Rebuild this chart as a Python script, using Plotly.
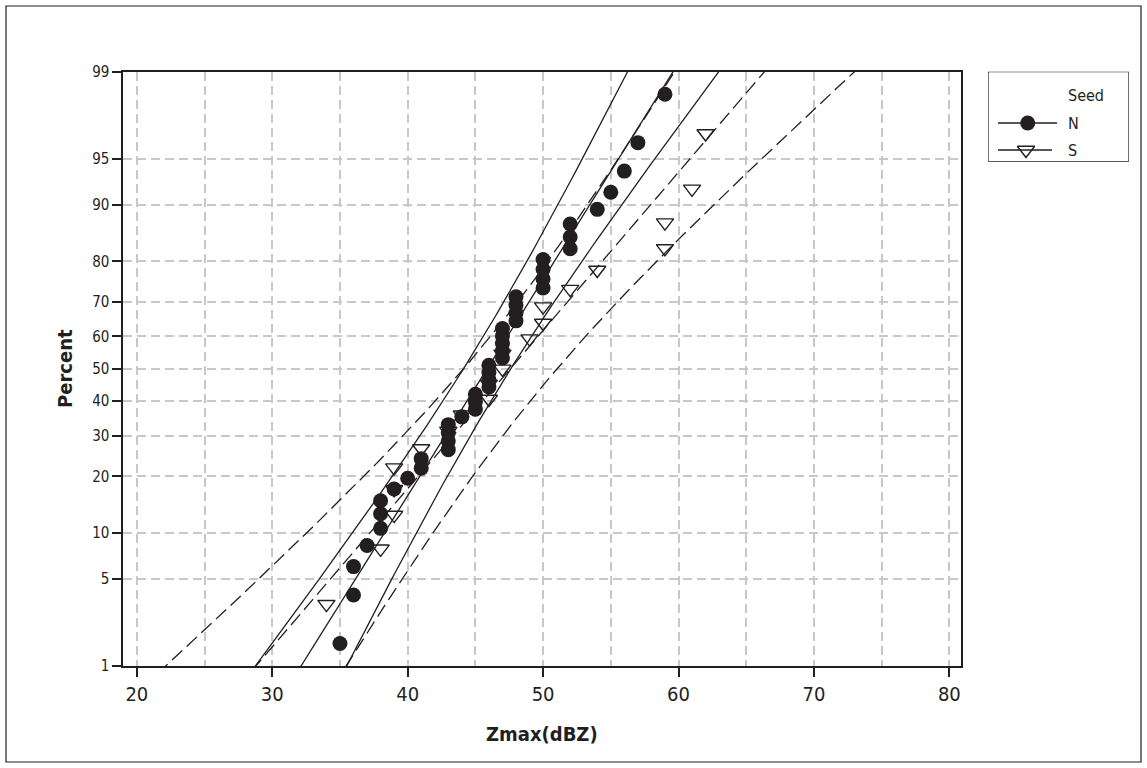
import math
from statistics import NormalDist
import plotly.graph_objects as go

# ---------------- data ----------------
seed_groups = ["N", "S"]
zmax_N = [35, 36, 36, 37, 38, 38, 38, 39, 40, 41, 41, 43, 43, 43, 43, 44,
          45, 45, 45, 46, 46, 46, 46, 47, 47, 47, 47, 47, 48, 48, 48, 48,
          50, 50, 50, 50, 52, 52, 52, 54, 55, 56, 57, 59]
zmax_S = [34, 38, 39, 39, 39, 41, 43, 44, 46, 46, 47, 47, 49, 50, 50, 52,
          54, 59, 59, 61, 62]
percent_ticks = [1, 5, 10, 20, 30, 40, 50, 60, 70, 80, 90, 95, 99]
x_major_ticks = [20, 30, 40, 50, 60, 70, 80]
x_minor_grid = [25, 35, 45, 55, 65, 75]
x_range = [19.0, 80.84]
conf_level = 0.95

# ---------------- helpers ----------------
nd = NormalDist()
W, H = 1147, 768
PL, PR, PT, PB = 123.3, 960.7, 71.7, 666.0   # plot area (pixels)
INK = "#231f20"
GRID = "#c8c8c8"


def plotting_positions(vals):
    v = sorted(vals)
    n = len(v)
    z = [nd.inv_cdf((i + 1 - 0.3) / (n + 0.4)) for i in range(n)]
    return v, z


def fit_bands(vals, conf=0.95):
    n = len(vals)
    mu = sum(vals) / n
    sd = math.sqrt(sum((x - mu) ** 2 for x in vals) / (n - 1))
    k = nd.inv_cdf(0.5 + conf / 2)
    zs = [-2.6 + 0.05 * i for i in range(105)]
    fit = [mu + sd * z for z in zs]
    half = [k * sd * math.sqrt((1 + z * z / 2) / n) for z in zs]
    lo = [f - h for f, h in zip(fit, half)]
    hi = [f + h for f, h in zip(fit, half)]
    return zs, fit, lo, hi


fig = go.Figure()

styles = {
    "N": dict(dash="solid", symbol="circle", msize=15, mline=0),
    "S": dict(dash="14px,6px", symbol="triangle-down-open", msize=15, mline=1.4),
}
data = {"N": zmax_N, "S": zmax_S}

# lines first (S then N), then markers (S then N so N dots sit on top)
for g in ["S", "N"]:
    zs, fit, lo, hi = fit_bands(data[g], conf_level)
    for xs in (fit, lo, hi):
        fig.add_trace(go.Scatter(x=xs, y=zs, mode="lines", showlegend=False,
                                 hoverinfo="skip",
                                 line=dict(color=INK, width=1.3,
                                           dash=styles[g]["dash"])))
for g in ["S", "N"]:
    xv, zv = plotting_positions(data[g])
    st = styles[g]
    fig.add_trace(go.Scatter(
        x=xv, y=zv, mode="markers", name=g, showlegend=False,
        marker=dict(symbol=st["symbol"], size=st["msize"], color=INK,
                    line=dict(color=INK, width=st["mline"]))))

# ---------------- custom legend (pixel axes) ----------------
LX0, LX1, LY0, LY1 = 988, 1129, 71.7, 161.7
legend_rows = {"N": 123, "S": 150}
legend_line_x = {"N": [998, 1057], "S": [998, 1052]}
legend_mark_x = {"N": 1027.7, "S": 1026}
for g in seed_groups:
    yv = legend_rows[g]
    fig.add_trace(go.Scatter(x=legend_line_x[g], y=[yv, yv], mode="lines",
                             xaxis="x2", yaxis="y2", showlegend=False,
                             hoverinfo="skip",
                             line=dict(color=INK, width=1.3)))
    st = styles[g]
    fig.add_trace(go.Scatter(x=[legend_mark_x[g]], y=[yv], mode="markers",
                             xaxis="x2", yaxis="y2", showlegend=False,
                             hoverinfo="skip",
                             marker=dict(symbol=st["symbol"], size=st["msize"],
                                         color=INK,
                                         line=dict(color=INK, width=st["mline"]))))

font_family = "Tahoma, 'DejaVu Sans Condensed', 'DejaVu Sans', sans-serif"

annotations = [
    dict(text="Seed", x=1066, y=95, xref="x2", yref="y2", showarrow=False,
         xanchor="left", yanchor="middle", font=dict(size=16, color=INK)),
    dict(text="N", x=1066, y=legend_rows["N"], xref="x2", yref="y2",
         showarrow=False, xanchor="left", yanchor="middle",
         font=dict(size=16, color=INK)),
    dict(text="S", x=1066, y=legend_rows["S"], xref="x2", yref="y2",
         showarrow=False, xanchor="left", yanchor="middle",
         font=dict(size=16, color=INK)),
    dict(text="Zmax(dBZ)", x=(PL + PR) / 2 / W, y=(H - 734) / H,
         xref="paper", yref="paper", showarrow=False,
         xanchor="center", yanchor="middle",
         font=dict(size=20, color=INK, weight="bold")),
    dict(text="Percent", x=65 / W, y=(H - 369) / H, textangle=-90,
         xref="paper", yref="paper", showarrow=False,
         xanchor="center", yanchor="middle",
         font=dict(size=20, color=INK, weight="bold")),
]

shapes = [
    dict(type="rect", xref="x2", yref="y2", x0=LX0, x1=LX1, y0=LY0, y1=LY1,
         line=dict(color=INK, width=1.3), fillcolor="rgba(0,0,0,0)"),
    dict(type="rect", xref="paper", yref="paper", x0=6 / W, x1=1141 / W,
         y0=6 / H, y1=(H - 6) / H, line=dict(color=INK, width=1.2),
         fillcolor="rgba(0,0,0,0)", layer="below"),
]

fig.update_layout(
    template="none",
    width=W, height=H, autosize=False,
    margin=dict(l=0, r=0, t=0, b=0, pad=0),
    paper_bgcolor="white", plot_bgcolor="rgba(0,0,0,0)",
    font=dict(family=font_family, color=INK),
    showlegend=False,
    hovermode=False,
    xaxis=dict(
        domain=[PL / W, PR / W], range=x_range, automargin=False,
        tickmode="array", tickvals=x_major_ticks,
        ticktext=[str(v) for v in x_major_ticks],
        ticks="outside", ticklen=9, tickwidth=1.5, tickcolor=INK,
        tickfont=dict(size=20, color=INK),
        showline=True, linewidth=2, linecolor=INK, mirror=True,
        showgrid=True, gridcolor=GRID, gridwidth=1.6, griddash="9px,5px",
        minor=dict(tickmode="array", tickvals=x_minor_grid, showgrid=True,
                   gridcolor=GRID, gridwidth=1.6, griddash="9px,5px", ticks=""),
        zeroline=False, anchor="y",
    ),
    yaxis=dict(
        domain=[(H - PB) / H, (H - PT) / H],
        range=[nd.inv_cdf(0.01), nd.inv_cdf(0.99)], automargin=False,
        tickmode="array",
        tickvals=[nd.inv_cdf(p / 100) for p in percent_ticks],
        ticktext=[str(p) for p in percent_ticks],
        ticks="outside", ticklen=9, tickwidth=1.5, tickcolor=INK,
        tickfont=dict(size=15, color=INK),
        showline=True, linewidth=2, linecolor=INK, mirror=True,
        showgrid=True, gridcolor=GRID, gridwidth=1.6, griddash="9px,5px",
        zeroline=False, anchor="x",
    ),
    xaxis2=dict(domain=[LX0 / W, LX1 / W], range=[LX0, LX1], visible=False,
                anchor="y2", fixedrange=True),
    yaxis2=dict(domain=[(H - LY1) / H, (H - LY0) / H], range=[LY1, LY0],
                visible=False, anchor="x2", fixedrange=True),
    annotations=annotations,
    shapes=shapes,
)

fig.write_html(
    "out.html",
    config={"displayModeBar": False},
    post_script="document.body.style.margin='0px';"
                "document.body.style.overflow='hidden';",
)
